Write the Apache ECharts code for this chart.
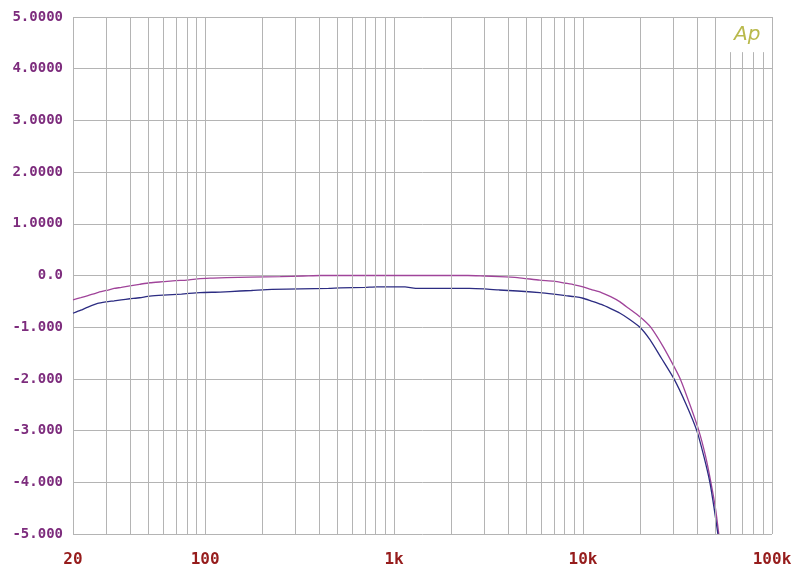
<!DOCTYPE html>
<html>
<head>
<meta charset="utf-8">
<script src="https://cdn.jsdelivr.net/npm/echarts@6/dist/echarts.min.js"></script>
<style>
html,body{margin:0;padding:0;background:#fff;}
#chart{width:800px;height:573px;}
</style>
</head>
<body>
<div id="chart"></div>
<script>
// Frequency (Hz) and level readings
const freqUpper = [20, 22, 24, 27, 30, 33, 36, 40, 45, 51, 60, 70, 80, 94, 110, 130, 173, 250, 330, 410, 600, 1000, 1600, 2460, 3000, 3600, 4500, 5900, 7000, 8100, 9000, 10000, 11000, 12500, 14000, 15700, 17500, 20000, 22800, 26400, 29500, 32700, 36800, 41000, 44400, 47500, 50200, 52300];
const valUpper  = [-0.47, -0.43, -0.39, -0.33, -0.29, -0.25, -0.23, -0.20, -0.17, -0.14, -0.12, -0.10, -0.09, -0.06, -0.05, -0.04, -0.03, -0.02, -0.01, 0.0, 0.0, 0.0, 0.0, 0.0, -0.01, -0.02, -0.04, -0.09, -0.11, -0.15, -0.18, -0.22, -0.27, -0.33, -0.41, -0.51, -0.64, -0.80, -1.0, -1.36, -1.68, -2.0, -2.5, -3.0, -3.48, -4.0, -4.5, -5.0];
const freqLower = [20, 22, 24, 27, 30, 33, 36, 40, 45, 51, 60, 75, 94, 120, 153, 176, 226, 320, 450, 520, 700, 811, 1000, 1143, 1300, 1800, 2500, 3000, 3600, 4500, 5900, 7000, 8100, 9000, 10000, 11000, 12500, 14000, 15700, 17500, 20000, 22600, 26000, 30300, 35000, 40000, 43600, 46900, 49300, 51700];
const valLower  = [-0.73, -0.67, -0.61, -0.54, -0.51, -0.49, -0.47, -0.45, -0.43, -0.40, -0.38, -0.36, -0.33, -0.32, -0.30, -0.29, -0.27, -0.26, -0.25, -0.24, -0.23, -0.22, -0.22, -0.22, -0.25, -0.25, -0.25, -0.26, -0.28, -0.30, -0.33, -0.36, -0.39, -0.41, -0.44, -0.49, -0.56, -0.64, -0.73, -0.84, -1.0, -1.24, -1.6, -2.0, -2.48, -3.0, -3.5, -4.0, -4.48, -5.0];

const xTickLabels = ['20', '100', '1k', '10k', '100k'];
const yTickLabels = ['-5.000', '-4.000', '-3.000', '-2.000', '-1.000', '0.0', '1.0000', '2.0000', '3.0000', '4.0000', '5.0000'];
// minor vertical grid lines (full height) and the ones cut by the logo
const minorFull = [30, 40, 50, 60, 70, 80, 90, 200, 300, 400, 500, 600, 700, 800, 900, 2000, 3000, 4000, 5000, 6000, 7000, 8000, 9000, 20000, 30000, 40000, 50000];
const minorCut = [60000, 70000, 80000, 90000];
const logoCutTop = 4.32;

const chart = echarts.init(document.getElementById('chart'), null, {renderer: 'canvas'});
const gridColor = '#b4b4b4';

const markData = [];
minorFull.forEach(f => markData.push([{coord: [f, 5]}, {coord: [f, -5]}]));
minorCut.forEach(f => markData.push([{coord: [f, logoCutTop]}, {coord: [f, -5]}]));

function fmtX(v) {
  const r = Math.round(v);
  if (r >= 1000) return (r / 1000) + 'k';
  return String(r);
}
function fmtY(v) {
  const idx = Math.round(v) + 5;
  return yTickLabels[idx] !== undefined ? yTickLabels[idx] : '';
}

chart.setOption({
  animation: false,
  backgroundColor: '#ffffff',
  grid: {left: 73, right: 28, top: 17, bottom: 39, containLabel: false},
  xAxis: {
    type: 'log', logBase: 10, min: 20, max: 100000,
    axisLine: {show: false}, axisTick: {show: false},
    splitLine: {show: true, lineStyle: {color: gridColor, width: 1}},
    axisLabel: {
      showMinLabel: true, showMaxLabel: true, margin: 18,
      formatter: fmtX,
      color: '#961c1c', fontFamily: 'DejaVu Sans Mono', fontWeight: 'bold', fontSize: 16
    }
  },
  yAxis: {
    type: 'value', min: -5, max: 5, interval: 1,
    axisLine: {show: false}, axisTick: {show: false},
    splitLine: {show: true, lineStyle: {color: gridColor, width: 1}},
    axisLabel: {
      margin: 10, formatter: fmtY,
      color: '#7d2c7d', fontFamily: 'DejaVu Sans Mono', fontWeight: 'bold', fontSize: 14
    }
  },
  graphic: [{
    type: 'text', left: 734, top: 25, silent: true,
    style: {text: 'Ap', fill: '#b9b94c', font: 'italic 20px "DejaVu Sans"'}
  }],
  series: [
    {
      type: 'line', name: 'grid', data: [], silent: true,
      markLine: {
        silent: true, symbol: ['none', 'none'], label: {show: false},
        lineStyle: {color: gridColor, width: 1, type: 'solid'},
        emphasis: {disabled: true},
        data: markData
      }
    },
    {
      type: 'line', name: 'upper', showSymbol: false, smooth: 0.2,
      lineStyle: {color: '#a0449a', width: 1.3},
      data: freqUpper.map((f, i) => [f, valUpper[i]])
    },
    {
      type: 'line', name: 'lower', showSymbol: false, smooth: 0.2,
      lineStyle: {color: '#2c2c82', width: 1.3},
      data: freqLower.map((f, i) => [f, valLower[i]])
    }
  ]
});
</script>
</body>
</html>
